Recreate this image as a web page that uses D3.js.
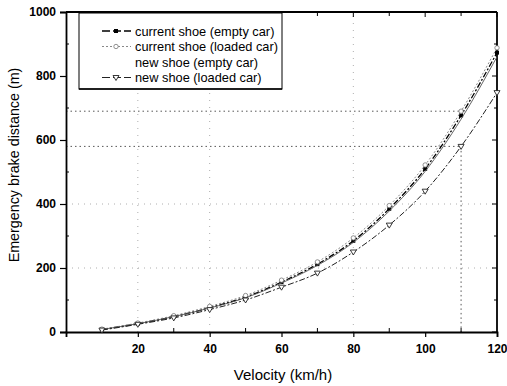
<!DOCTYPE html>
<html><head><meta charset="utf-8">
<script src="https://cdn.jsdelivr.net/npm/d3@7"></script>
<style>body{margin:0;background:#fff}svg{display:block}text{font-family:"Liberation Sans",Arial,sans-serif}</style>
</head><body><svg id="c" width="507" height="386"></svg>
<script>
const velocity = [10,20,30,40,50,60,70,80,90,100,110,120];
const currentEmpty = [8,26,48,76,109,156,212,285,385,510,677,873];
const currentLoaded = [9,28,51,80,114,162,219,294,395,522,690,888];
const newEmpty = [8,26,48,75,107,153,208,280,378,502,665,860];
const newLoaded = [6,24,44,70,100,140,184,250,334,440,580,748];
const xTicks = [20,40,60,80,100,120];
const yTicks = [0,200,400,600,800,1000];
const legendLabels = ["current shoe (empty car)","current shoe (loaded car)","new shoe (empty car)","new shoe (loaded car)"];

const svg = d3.select("#c");
const L=66,R=497,T=12,B=332;
const x = d3.scaleLinear().domain([0,120]).range([L,R]);
const y = d3.scaleLinear().domain([0,1000]).range([B,T]);

// grid
const g = svg.append("g");
[200,400].forEach(v=>g.append("line").attr("x1",L).attr("x2",R).attr("y1",y(v)).attr("y2",y(v)).attr("stroke","#999").attr("stroke-width",0.8).attr("stroke-dasharray","1,5"));
[20,40,80].forEach(v=>g.append("line").attr("x1",x(v)).attr("x2",x(v)).attr("y1",B).attr("y2",T).attr("stroke","#999").attr("stroke-width",0.8).attr("stroke-dasharray","1,6"));
// reference lines at 110 km/h
g.append("line").attr("x1",L).attr("x2",x(110)).attr("y1",y(currentLoaded[10])).attr("y2",y(currentLoaded[10])).attr("stroke","#444").attr("stroke-width",0.9).attr("stroke-dasharray","1.5,3");
g.append("line").attr("x1",L).attr("x2",x(110)).attr("y1",y(newLoaded[10])).attr("y2",y(newLoaded[10])).attr("stroke","#444").attr("stroke-width",0.9).attr("stroke-dasharray","1.5,3");
g.append("line").attr("x1",x(110)).attr("x2",x(110)).attr("y1",y(newLoaded[10])).attr("y2",B).attr("stroke","#444").attr("stroke-width",0.9).attr("stroke-dasharray","1.5,3");

// axes
const ax = svg.append("g").attr("transform",`translate(0,${B})`).call(d3.axisBottom(x).tickValues(xTicks).tickSize(5).tickPadding(7));
const ay = svg.append("g").attr("transform",`translate(${L},0)`).call(d3.axisLeft(y).tickValues(yTicks).tickFormat(d3.format("d")).tickSize(6).tickPadding(4));
[ax,ay].forEach(a=>{a.select(".domain").attr("stroke","#000").attr("stroke-width",1.8);a.selectAll("text").attr("font-size",12).attr("font-weight","bold").attr("fill","#000");a.selectAll(".tick line").attr("stroke-width",1.2);});
// minor ticks inward
const minorX = d3.range(10,120,20), minorY = d3.range(100,1000,200);
minorX.forEach(v=>{svg.append("line").attr("x1",x(v)).attr("x2",x(v)).attr("y1",B).attr("y2",B-4).attr("stroke","#000");svg.append("line").attr("x1",x(v)).attr("x2",x(v)).attr("y1",T).attr("y2",T+4).attr("stroke","#000");});
xTicks.forEach(v=>{svg.append("line").attr("x1",x(v)).attr("x2",x(v)).attr("y1",T).attr("y2",T+5).attr("stroke","#000");});
minorY.forEach(v=>{svg.append("line").attr("x1",L).attr("x2",L+3).attr("y1",y(v)).attr("y2",y(v)).attr("stroke","#000");svg.append("line").attr("x1",R).attr("x2",R-3).attr("y1",y(v)).attr("y2",y(v)).attr("stroke","#000");});
yTicks.forEach(v=>{svg.append("line").attr("x1",R).attr("x2",R-5).attr("y1",y(v)).attr("y2",y(v)).attr("stroke","#000");});
svg.append("line").attr("x1",L).attr("x2",R).attr("y1",T).attr("y2",T).attr("stroke","#000").attr("stroke-width",1.8);
svg.append("line").attr("x1",R).attr("x2",R).attr("y1",T).attr("y2",B).attr("stroke","#000").attr("stroke-width",1.8);

svg.append("text").attr("x",283).attr("y",380).attr("text-anchor","middle").attr("font-size",15).text("Velocity (km/h)");
svg.append("text").attr("transform",`translate(19,165) rotate(-90)`).attr("text-anchor","middle").attr("font-size",14.3).text("Emergency brake distance (m)");

// series
const line = d3.line().x((d,i)=>x(velocity[i])).y(d=>y(d)).curve(d3.curveMonotoneX);
const series = [
 {data:currentEmpty,stroke:"#000",w:1.3,dash:"6,2,2,2",marker:"square"},
 {data:currentLoaded,stroke:"#888",w:1,dash:"2,2",marker:"circle"},
 {data:newEmpty,stroke:"#555",w:0.9,dash:null,marker:null},
 {data:newLoaded,stroke:"#222",w:1,dash:"6,2,2,2",marker:"tri"}
];
function marker(sel,type,cx,cy){
 if(type==="square") sel.append("rect").attr("x",cx-2).attr("y",cy-2).attr("width",4).attr("height",4).attr("fill","#000");
 else if(type==="circle") sel.append("circle").attr("cx",cx).attr("cy",cy).attr("r",2.2).attr("fill","#fff").attr("stroke","#777").attr("stroke-width",0.8);
 else if(type==="tri") sel.append("path").attr("d",`M${cx-3},${cy-2}L${cx+3},${cy-2}L${cx},${cy+3}Z`).attr("fill","#fff").attr("stroke","#222").attr("stroke-width",0.9);
}
series.forEach(s=>{
 svg.append("path").attr("d",line(s.data)).attr("fill","none").attr("stroke",s.stroke).attr("stroke-width",s.w).attr("stroke-dasharray",s.dash);
 if(s.marker){const mg=svg.append("g");s.data.forEach((d,i)=>marker(mg,s.marker,x(velocity[i]),y(d)));}
});

// legend
const lg = svg.append("g");
lg.append("rect").attr("x",79).attr("y",13).attr("width",203).attr("height",76).attr("fill","#fff").attr("stroke","#000").attr("stroke-width",1);
lg.append("line").attr("x1",79).attr("x2",282).attr("y1",89).attr("y2",89).attr("stroke","#000").attr("stroke-width",1.5);
legendLabels.forEach((lab,i)=>{
 const yy = 31 + i*15.5;
 const s = series[i];
 if(i!==2){
  lg.append("line").attr("x1",102).attr("x2",131).attr("y1",yy).attr("y2",yy).attr("stroke",s.stroke).attr("stroke-width",s.w).attr("stroke-dasharray",i===1?"2,2":"8,3");
  marker(lg,s.marker,116,yy);
 }
 lg.append("text").attr("x",135).attr("y",yy+4.5).attr("font-size",12.8).attr("fill","#000").text(lab);
});
</script></body></html>
